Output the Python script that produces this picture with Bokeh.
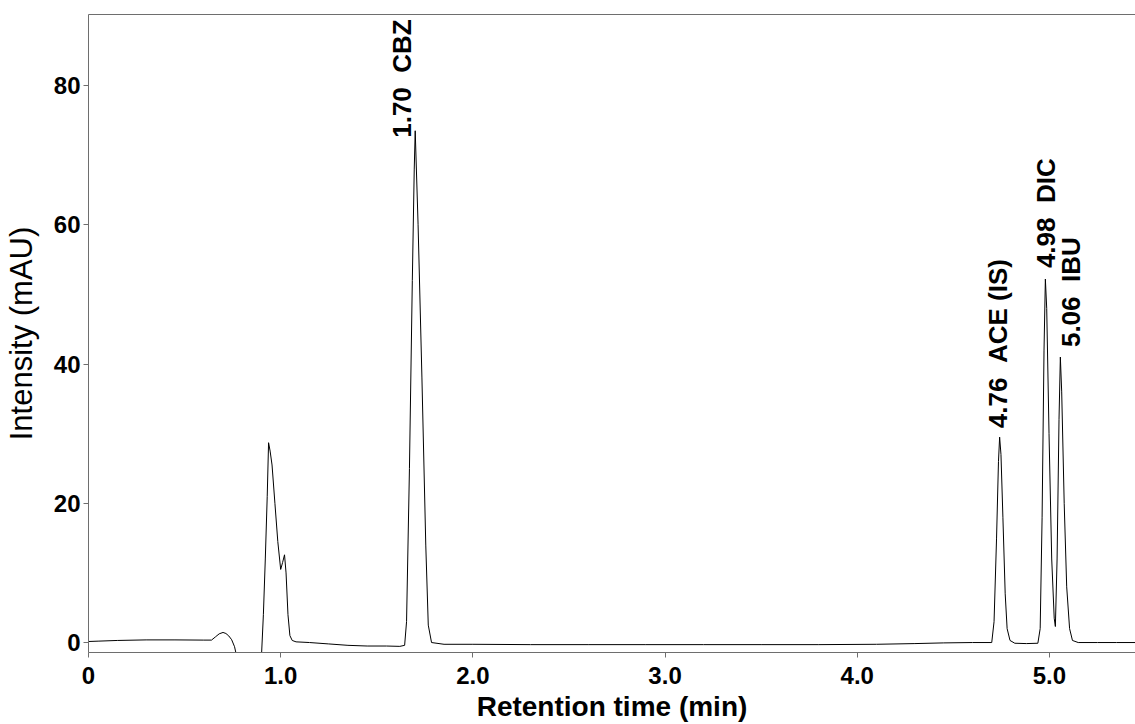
from bokeh.plotting import figure
from bokeh.models import Range1d, FixedTicker, ColumnDataSource, LinearAxis
from bokeh.core.properties import value
from bokeh.embed import file_html
from bokeh.resources import INLINE
import math

# ---- data ----
time_min = [
    0.000, 0.050, 0.150, 0.300, 0.450, 0.600, 0.640, 0.660, 0.680, 0.700,
    0.715, 0.730, 0.745, 0.760, 0.775, 0.800, 0.880, 0.900, 0.910, 0.920,
    0.930, 0.937, 0.945, 0.955, 0.970, 0.985, 1.000, 1.010, 1.020, 1.028,
    1.038, 1.048, 1.060, 1.080, 1.150, 1.250, 1.350, 1.450, 1.550, 1.620,
    1.645, 1.655, 1.670, 1.685, 1.695, 1.700, 1.715, 1.735, 1.755, 1.768,
    1.785, 1.850, 2.000, 2.300, 2.600, 2.900, 3.200, 3.500, 3.800, 4.100,
    4.300, 4.450, 4.600, 4.700, 4.712, 4.725, 4.735, 4.741, 4.748, 4.758,
    4.770, 4.780, 4.795, 4.820, 4.880, 4.940, 4.952, 4.962, 4.972, 4.979,
    4.986, 4.998, 5.012, 5.025, 5.031, 5.040, 5.050, 5.057, 5.064, 5.077,
    5.090, 5.105, 5.120, 5.150, 5.250, 5.350, 5.450,
]
intensity_mau = [
    0.15, 0.20, 0.30, 0.38, 0.38, 0.35, 0.35, 0.80, 1.25, 1.45,
    1.30, 0.95, 0.40, -0.60, -2.50, -4.00, -4.00, -2.00, 4.0, 12.0,
    21.0, 28.7, 27.5, 25.5, 20.0, 14.5, 10.5, 11.5, 12.6, 10.0,
    4.0, 1.0, 0.30, 0.10, 0.00, -0.20, -0.40, -0.50, -0.50, -0.55,
    -0.40, 3.0, 25.0, 52.0, 68.0, 73.5, 60.0, 38.0, 14.0, 2.5,
    0.0, -0.25, -0.25, -0.30, -0.30, -0.30, -0.30, -0.30, -0.30, -0.25,
    -0.15, -0.05, 0.00, 0.00, 3.0, 15.0, 26.0, 29.5, 27.0, 18.0,
    7.0, 2.0, 0.3, -0.10, -0.15, -0.10, 2.0, 18.0, 42.0, 52.2,
    48.0, 30.0, 12.0, 3.5, 2.3, 12.0, 32.0, 41.0, 36.0, 20.0,
    8.0, 2.0, 0.3, 0.0, 0.0, 0.0, 0.0,
]

peak_times = [1.70, 4.76, 4.98, 5.06]
peak_heights = [73.5, 29.5, 52.2, 41.0]
peak_names = ["CBZ", "ACE (IS)", "DIC", "IBU"]

x_ticks = [0, 1, 2, 3, 4, 5]
x_tick_labels = ["0", "1.0", "2.0", "3.0", "4.0", "5.0"]
y_ticks = [0, 20, 40, 60, 80]

# ---- label nudges in screen pixels (layout only) ----
label_dx = [-13, -5, 0, 10]
label_dy = [7, -9, -11, -10]

FONT = "Liberation Sans"
AXIS_GREY = "#6e6e6e"

p = figure(width=1135, height=724, output_backend="svg", toolbar_location=None,
           x_range=Range1d(0, 5.448), y_range=Range1d(-1.43, 90.2),
           min_border_left=88, min_border_right=0, min_border_top=14,
           min_border_bottom=71)
p.background_fill_color = "white"
p.border_fill_color = "white"
p.outline_line_color = None
p.xgrid.visible = False
p.ygrid.visible = False

p.line(time_min, intensity_mau, line_color="black", line_width=1)

labels = [f"{t:.2f}\u00a0\u00a0{n}" for t, n in zip(peak_times, peak_names)]
src = ColumnDataSource(dict(x=peak_times, y=peak_heights, text=labels,
                            dx=label_dx, dy=label_dy))
p.text(x="x", y="y", text="text", source=src, angle=math.pi / 2,
       x_offset="dx", y_offset="dy",
       text_font=value(FONT), text_font_style="bold", text_font_size="26px",
       text_align="left", text_baseline="middle", text_color="black")

xa = p.below[0]
ya = p.left[0]

# top frame line only (no right border)
top = LinearAxis(ticker=FixedTicker(ticks=[]), axis_line_color=AXIS_GREY,
                 major_tick_line_color=None, minor_tick_line_color=None,
                 major_tick_out=0, major_tick_in=0, major_label_standoff=0,
                 major_label_text_font_size="0px")
p.add_layout(top, "above")

xa.ticker = FixedTicker(ticks=x_ticks)
xa.major_label_overrides = dict(zip(x_ticks, x_tick_labels))
xa.axis_label = "Retention time (min)"
ya.ticker = FixedTicker(ticks=y_ticks)
ya.axis_label = "Intensity (mAU)"

for ax in (xa, ya):
    ax.axis_line_color = AXIS_GREY
    ax.major_tick_line_color = AXIS_GREY
    ax.minor_tick_line_color = None
    ax.major_tick_out = 5
    ax.major_tick_in = 0
    ax.major_label_text_font = FONT
    ax.major_label_text_font_style = "bold"
    ax.major_label_text_font_size = "24px"
    ax.major_label_text_color = "black"
    ax.axis_label_text_font = FONT
    ax.axis_label_text_color = "black"

xa.major_label_standoff = 9
xa.axis_label_standoff = 4
xa.axis_label_text_font_style = "bold"
xa.axis_label_text_font_size = "28px"
ya.major_label_standoff = 3
ya.axis_label_standoff = 12
ya.axis_label_text_font_style = "normal"
ya.axis_label_text_font_size = "31px"

open("out.html", "w").write(file_html(p, INLINE))
